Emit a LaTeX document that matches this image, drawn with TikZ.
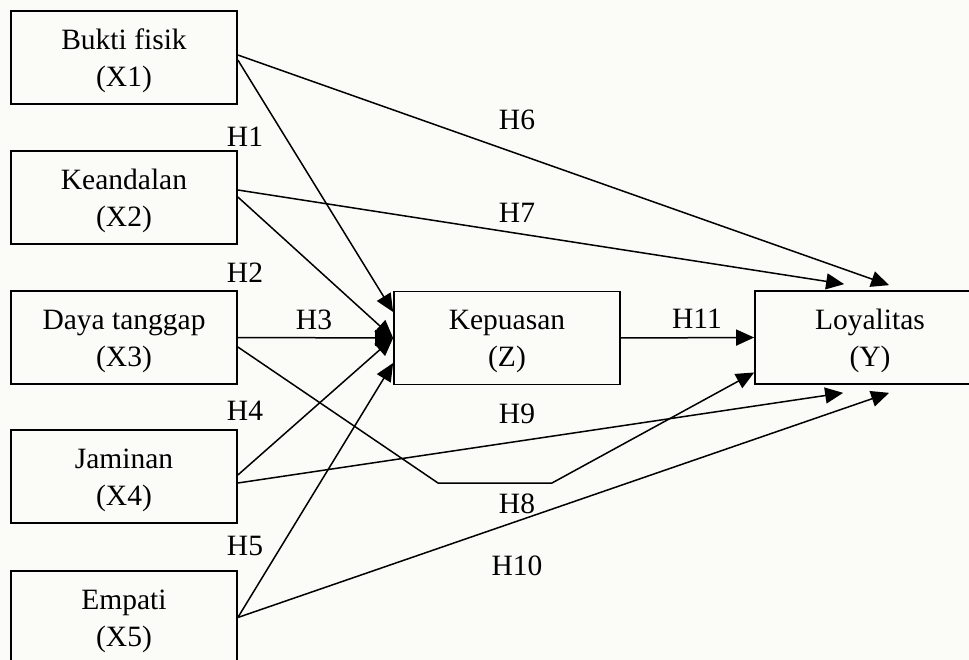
\documentclass[tikz,border=0pt]{standalone}
\usepackage{fontspec}
\setmainfont{Liberation Serif}
\usetikzlibrary{arrows.meta}
\definecolor{bgc}{RGB}{251,252,247}
\begin{document}
\begin{tikzpicture}[x=1pt,y=-1pt,
  box/.style={draw, line width=1.7pt, minimum width=226pt, minimum height=93pt, inner sep=0pt},
  txt/.style={font=\fontsize{29.5}{37}\selectfont, align=center, inner sep=0pt},
  lab/.style={font=\fontsize{29.5}{37}\selectfont, inner sep=0pt, anchor=base},
  arr/.style={line width=1.5pt, -{Triangle[length=18pt,width=16pt]}},
]
\clip (0,0) rectangle (969,660);
\fill[bgc] (0,0) rectangle (969,660);

% boxes
\node[box] (x1) at (124,57.5) {};
\node[box] (x2) at (124,197.5) {};
\node[box] (x3) at (124,337.5) {};
\node[box] (x4) at (124,476.5) {};
\node[box] (x5) at (124,617.5) {};
\node[box] (z) at (507,338) {};
\node[box, minimum width=230pt] (yv) at (870,337.5) {};

% box texts
\node[txt] (x1t) at ([yshift=-3.5pt]x1.center) {Bukti fisik\\(X1)};
\node[txt] (x2t) at ([yshift=-3.5pt]x2.center) {Keandalan\\(X2)};
\node[txt] (x3t) at ([yshift=-3.5pt]x3.center) {Daya tanggap\\(X3)};
\node[txt] (x4t) at ([yshift=-3.5pt]x4.center) {Jaminan\\(X4)};
\node[txt] (x5t) at ([yshift=-3.5pt]x5.center) {Empati\\(X5)};
\node[txt] (zt) at ([yshift=-3.5pt]z.center) {Kepuasan\\(Z)};
\node[txt] (yt) at ([yshift=-3.5pt]yv.center) {Loyalitas\\(Y)};

% bend points of H8
\coordinate (h8a) at (438,483);
\coordinate (h8b) at (552,483);

% connectors to Kepuasan
\draw[arr] ([yshift=-2.5pt]x1.east) -- ([yshift=26pt]z.west);
\draw[arr] ([yshift=0.5pt]x2.east) -- (z.west);
\draw[arr] (x3.east) -- (z.west);
\draw[arr] ([yshift=1.5pt]x4.east) -- (z.west);
\draw[arr] (x5.east) -- ([yshift=-25pt]z.west);

% connectors to Loyalitas
\draw[arr] ([yshift=2.5pt]x1.east) -- ([xshift=135pt,yshift=5pt]yv.north west);
\draw[arr] ([yshift=7.5pt]x2.east) -- ([xshift=90pt,yshift=6pt]yv.north west);
\draw[arr] ([yshift=-9.5pt]x3.east) -- (h8a) -- (h8b) -- ([yshift=-35pt]yv.west);
\draw[arr] ([yshift=-6.5pt]x4.east) -- ([xshift=89pt,yshift=-8pt]yv.south west);
\draw[arr] (x5.east) -- ([xshift=135pt,yshift=-8pt]yv.south west);
\draw[arr] (z.east) -- (yv.west);

% labels
\node[lab] (h1) at (245,147) {H1};
\node[lab] (h2) at (245,283) {H2};
\node[lab] (h3) at (314,330) {H3};
\node[lab] (h4) at (245,420) {H4};
\node[lab] (h5) at (245,555) {H5};
\node[lab] (h6) at (517,130) {H6};
\node[lab] (h7) at (517,223) {H7};
\node[lab] (h9) at (517,423) {H9};
\node[lab] (h8) at (517,513) {H8};
\node[lab] (h10) at (517,575) {H10};
\node[lab] (h11) at (697,328) {H11};
\end{tikzpicture}
\end{document}
